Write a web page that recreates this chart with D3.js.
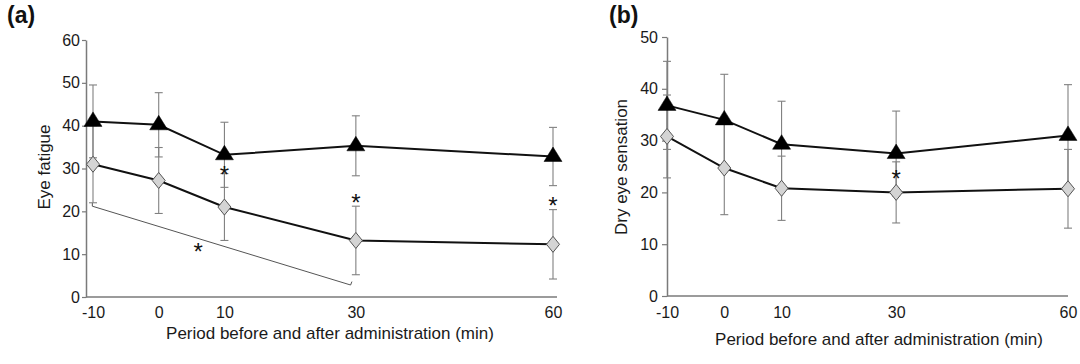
<!DOCTYPE html>
<html><head><meta charset="utf-8">
<script src="https://cdn.jsdelivr.net/npm/d3@7"></script>
<style>body{margin:0;background:#fff}svg{display:block;font-family:"Liberation Sans",Arial,sans-serif}</style>
</head><body><svg id="c" width="1080" height="364"></svg>
<script>
// ---- data ----
const timepoints = [-10, 0, 10, 30, 60];
const xTickLabels = ["-10", "0", "10", "30", "60"];
const fatigueControl = [41.0, 40.2, 33.2, 35.3, 32.8];
const fatigueControlSD = [8.5, 7.5, 7.6, 7.0, 6.8];
const fatigueTreated = [31.0, 27.2, 21.0, 13.2, 12.3];
const fatigueTreatedSD = [9.0, 7.7, 7.8, 8.0, 8.1];
const dryControl = [36.8, 34.0, 29.3, 27.5, 31.0];
const dryControlSD = [8.5, 8.8, 8.3, 8.2, 9.8];
const dryTreated = [30.8, 24.7, 20.8, 20.0, 20.7];
const dryTreatedSD = [8.0, 9.0, 6.2, 5.9, 7.6];
const fatigueTicks = [0, 10, 20, 30, 40, 50, 60];
const dryTicks = [0, 10, 20, 30, 40, 50];
// asterisks [time, value]
const fatigueStars = [[10, 29.6], [30, 23.1], [60, 22.5], [6, 11.7]];
const dryStars = [[30, 23.6]];
// bracket in panel (a): [time, value]
const fatigueBracket = [[-10.1, 22.0], [-10.1, 21.2], [29.2, 2.8], [29.4, 3.6]];

const svg = d3.select("#c");

function panel(o) {
  const g = svg.append("g");
  const x = d3.scaleLinear().domain([-10, 60]).range(o.xr);
  const y = d3.scaleLinear().domain([0, o.ymax]).range(o.yr);
  // y axis
  const ya = g.append("g").attr("transform", `translate(${o.axisX},0)`)
    .call(d3.axisLeft(y).tickValues(o.yticks).tickSize(o.tickSize).tickPadding(o.tickPad).tickSizeOuter(0));
  ya.select(".domain").attr("stroke", "#7a7a7a").attr("stroke-width", 1.5);
  ya.selectAll(".tick line").attr("stroke", "#7a7a7a").attr("stroke-width", 1.2);
  ya.selectAll("text").attr("font-size", 16).attr("fill", "#1a1a1a");
  // x axis
  const xa = g.append("g").attr("transform", `translate(0,${o.yr[0]})`)
    .call(d3.axisBottom(x).tickValues(timepoints).tickFormat((d, i) => xTickLabels[i]).tickSize(0).tickPadding(o.xPad).tickSizeOuter(0));
  xa.select(".domain").attr("d", `M${o.axisX},0H${o.xEnd}`).attr("stroke", "#7a7a7a").attr("stroke-width", 1.5);
  xa.selectAll("text").attr("font-size", 16).attr("fill", "#1a1a1a");
  // titles
  g.append("text").attr("x", o.xTitleX).attr("y", o.xTitleY).attr("text-anchor", "middle")
    .attr("font-size", 17).attr("fill", "#1a1a1a").text("Period before and after administration (min)");
  g.append("text").attr("transform", `translate(${o.yTitleX},${o.yTitleY}) rotate(-90)`)
    .attr("text-anchor", "middle").attr("font-size", 17).attr("fill", "#1a1a1a").text(o.yTitle);
  g.append("text").attr("x", o.labelX).attr("y", 23).attr("font-size", 23).attr("font-weight", "bold")
    .attr("fill", "#111").text(o.label);

  // annotation bracket
  if (o.bracket) {
    g.append("path").attr("d", d3.line().x(d => x(d[0])).y(d => y(d[1]))(o.bracket))
      .attr("fill", "none").attr("stroke", "#555").attr("stroke-width", 1);
  }
  // error bars
  const series = [
    { v: o.treated, sd: o.treatedSD },
    { v: o.control, sd: o.controlSD }
  ];
  series.forEach(s => {
    const eb = g.append("g").attr("stroke", "#808080").attr("stroke-width", 1.1);
    timepoints.forEach((t, i) => {
      const cx = x(t), y1 = y(s.v[i] + s.sd[i]), y0 = y(s.v[i] - s.sd[i]);
      eb.append("line").attr("x1", cx).attr("x2", cx).attr("y1", y1).attr("y2", y0);
      eb.append("line").attr("x1", cx - 4).attr("x2", cx + 4).attr("y1", y1).attr("y2", y1);
      eb.append("line").attr("x1", cx - 4).attr("x2", cx + 4).attr("y1", y0).attr("y2", y0);
    });
  });
  // lines
  const line = d3.line().x((d, i) => x(timepoints[i])).y(d => y(d));
  [o.treated, o.control].forEach(v => {
    g.append("path").attr("d", line(v)).attr("fill", "none").attr("stroke", "#111").attr("stroke-width", 2);
  });
  // markers
  g.selectAll(".dia").data(o.treated).enter().append("path")
    .attr("transform", (d, i) => `translate(${x(timepoints[i])},${y(d)})`)
    .attr("d", "M0,-8L6.5,0L0,8L-6.5,0Z")
    .attr("fill", "#d4d4d4").attr("stroke", "#555").attr("stroke-width", 1);
  g.selectAll(".tri").data(o.control).enter().append("path")
    .attr("transform", (d, i) => `translate(${x(timepoints[i])},${y(d)})`)
    .attr("d", "M0,-9.5L9,5L-9,5Z")
    .attr("fill", "#000").attr("stroke", "#000").attr("stroke-width", 0.5);
  // stars
  o.stars.forEach(s => {
    g.append("text").attr("x", x(s[0])).attr("y", y(s[1]) + 13).attr("text-anchor", "middle")
      .attr("font-size", 24).attr("fill", "#111").text("*");
  });
}

panel({
  xr: [93, 553], yr: [297, 40], ymax: 60, axisX: 86, xEnd: 557, yticks: fatigueTicks,
  tickSize: 4, tickPad: 2, xPad: 10, xTitleX: 330, xTitleY: 339, yTitleX: 50, yTitleY: 167,
  yTitle: "Eye fatigue", label: "(a)", labelX: 7,
  control: fatigueControl, controlSD: fatigueControlSD,
  treated: fatigueTreated, treatedSD: fatigueTreatedSD,
  stars: fatigueStars, bracket: fatigueBracket
});
panel({
  xr: [667, 1068], yr: [296, 37], ymax: 50, axisX: 667, xEnd: 1068, yticks: dryTicks,
  tickSize: 5, tickPad: 4, xPad: 11, xTitleX: 879, xTitleY: 345, yTitleX: 627, yTitleY: 167,
  yTitle: "Dry eye sensation", label: "(b)", labelX: 609,
  control: dryControl, controlSD: dryControlSD,
  treated: dryTreated, treatedSD: dryTreatedSD,
  stars: dryStars, bracket: null
});
</script></body></html>
